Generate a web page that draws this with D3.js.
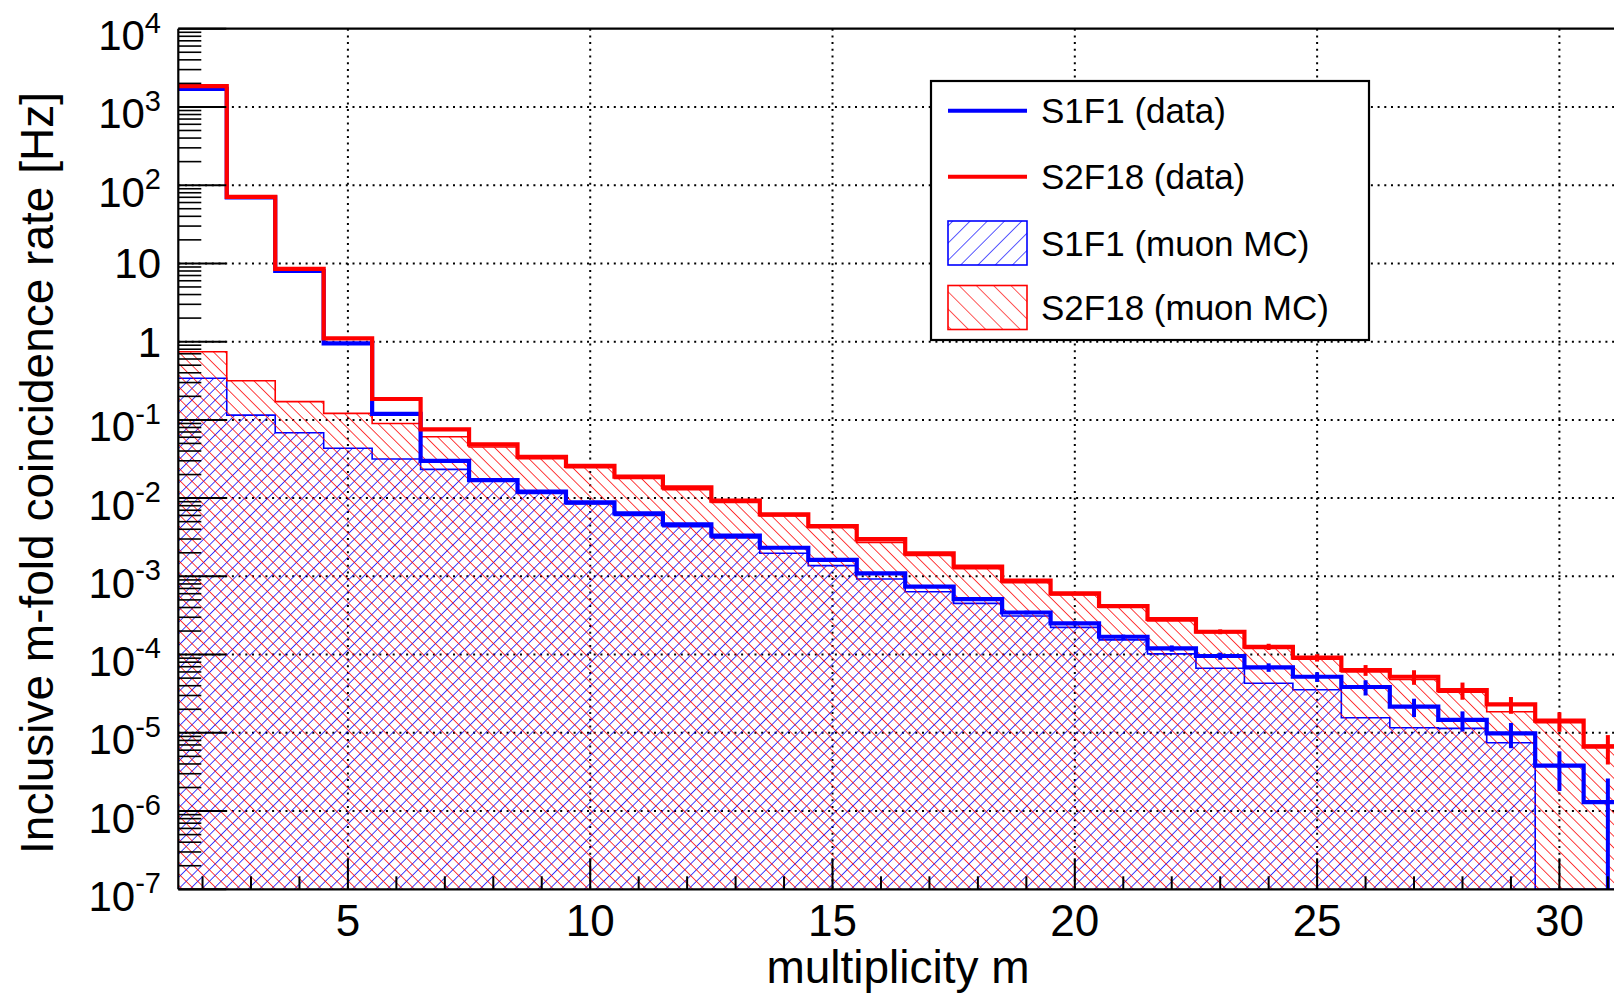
<!DOCTYPE html>
<html>
<head>
<meta charset="utf-8">
<script src="https://cdn.jsdelivr.net/npm/d3@7"></script>
<style>
  body { margin: 0; background: #fff; }
  svg { display: block; }
  text { font-family: "Liberation Sans", Arial, Helvetica, sans-serif; fill: #000; }
</style>
</head>
<body>
<div id="chart"></div>
<script>
// multiplicity bins (bin centres)
const multiplicity = [2, 3, 4, 5, 6, 7, 8, 9, 10, 11, 12, 13, 14, 15, 16, 17, 18, 19, 20, 21, 22, 23, 24, 25, 26, 27, 28, 29, 30, 31];

// S1F1 (data) rate [Hz] and errors
const s1f1Data = [1700, 70, 8.0, 0.95, 0.119, 0.030, 0.017, 0.0121, 0.00883, 0.0064, 0.00462, 0.00331, 0.00232, 0.00162, 0.00109,
  0.000738, 0.000513, 0.000345, 0.000251, 0.000169, 0.00012, 0.0000959, 0.0000687, 0.0000521, 0.0000385, 0.0000216, 0.0000146,
  0.00000986, 0.0000038, 0.0000013];
const s1f1Err = [0.042, 0.0086, 0.0029, 0.001, 0.00035, 0.00018, 0.00013, 0.00011, 0.000096, 0.000082, 0.00007, 0.000059, 0.000049,
  0.000041, 0.000034, 0.000028, 0.000023, 0.000019, 0.000016, 0.000011, 0.000011, 0.00001, 0.0000085, 0.0000074, 0.0000085,
  0.0000057, 0.0000042, 0.0000035, 0.000002, 0.0000013];

// S2F18 (data) rate [Hz] and errors
const s2f18Data = [1850, 71, 8.5, 1.1, 0.185, 0.0757, 0.0487, 0.0338, 0.0259, 0.0188, 0.0137, 0.00927, 0.00621, 0.0044, 0.0030,
  0.00197, 0.00133, 0.00088, 0.000607, 0.000418, 0.000285, 0.000196, 0.000126, 0.0000912, 0.0000635, 0.0000521, 0.0000352,
  0.0000231, 0.0000143, 0.00000665];
const s2f18Err = [0.044, 0.0086, 0.003, 0.0011, 0.00044, 0.00028, 0.00023, 0.00019, 0.000165, 0.00014, 0.00012, 0.000099, 0.000081,
  0.000068, 0.000056, 0.000046, 0.000037, 0.00003, 0.000025, 0.000021, 0.000017, 0.000014, 0.0000115, 0.0000098, 0.00001,
  0.000011, 0.0000087, 0.0000056, 0.000004, 0.0000027];

// muon MC
const s1f1MC = [0.34, 0.115, 0.0685, 0.0433, 0.0316, 0.0233, 0.0165, 0.0115, 0.0084, 0.006, 0.0043, 0.0031, 0.00197, 0.00137,
  0.000925, 0.000637, 0.000452, 0.000311, 0.000223, 0.000154, 0.000102, 0.0000668, 0.000043, 0.0000355, 0.0000156, 0.0000116,
  0.0000114, 0.00000748, 0, 0];
const s2f18MC = [0.743, 0.316, 0.171, 0.121, 0.090, 0.061, 0.045, 0.032, 0.0245, 0.0178, 0.0128, 0.0088, 0.0059, 0.0042, 0.00272,
  0.00185, 0.00125, 0.00083, 0.00058, 0.0004, 0.00027, 0.00019, 0.00012, 0.000087, 0.00006, 0.000048, 0.000033, 0.0000186,
  0.0000135, 0.000007];

const xTicksMajor = [5, 10, 15, 20, 25, 30];
const yDecades = [-7, -6, -5, -4, -3, -2, -1, 0, 1, 2, 3, 4];

const width = 1614, height = 1000;
const BLUE = "#0000ff", RED = "#ff0000";

const svg = d3.select("#chart").append("svg")
  .attr("width", width)
  .attr("height", height);

svg.append("rect").attr("width", width).attr("height", height).attr("fill", "#fff");

// scales (plot continues past the right edge of the picture)
const x = d3.scaleLinear().domain([1.5, 32.5]).range([178.3, 178.3 + 31 * 48.46]);
const y = d3.scaleLog().domain([1e-7, 1e4]).range([889.3, 28.7]);
const yMin = 1e-7;
const yv = v => y(Math.max(v, yMin));

const defs = svg.append("defs");
defs.append("clipPath").attr("id", "plot-clip")
  .append("rect")
  .attr("x", x(1.5)).attr("y", y(1e4))
  .attr("width", x(32.5) - x(1.5)).attr("height", y(yMin) - y(1e4));

// hatch patterns: "///" for blue, "\\\" for red
function hatch(id, color, spacing, angle, lw) {
  const p = defs.append("pattern")
    .attr("id", id)
    .attr("patternUnits", "userSpaceOnUse")
    .attr("width", spacing).attr("height", spacing)
    .attr("patternTransform", `rotate(${angle})`);
  p.append("line")
    .attr("x1", 0).attr("y1", -1).attr("x2", 0).attr("y2", spacing + 1)
    .attr("stroke", color).attr("stroke-width", lw);
}
hatch("hatch-blue", BLUE, 8.2, 45, 1.5);
hatch("hatch-red", RED, 8.2, -45, 1.5);
hatch("hatch-blue-leg", BLUE, 12.2, 45, 1.3);
hatch("hatch-red-leg", RED, 12.2, -45, 1.3);

// grid
const grid = svg.append("g").attr("stroke", "#000").attr("stroke-width", 2).attr("stroke-dasharray", "2 4.7");
grid.selectAll(".gx").data(xTicksMajor).enter().append("line")
  .attr("x1", d => x(d)).attr("x2", d => x(d))
  .attr("y1", y(1e4)).attr("y2", y(yMin));
grid.selectAll(".gy").data(yDecades.filter(e => e > -7 && e < 4)).enter().append("line")
  .attr("x1", x(1.5)).attr("x2", width)
  .attr("y1", e => y(Math.pow(10, e))).attr("y2", e => y(Math.pow(10, e)));

// step helpers
function stepPoints(vals) {
  const pts = multiplicity.map((m, i) => [m - 0.5, vals[i]]);
  pts.push([multiplicity[multiplicity.length - 1] + 0.5, vals[vals.length - 1]]);
  return pts;
}
const stepLine = d3.line().x(d => x(d[0])).y(d => yv(d[1])).curve(d3.curveStepAfter);
const stepArea = d3.area().x(d => x(d[0])).y0(y(yMin)).y1(d => yv(d[1])).curve(d3.curveStepAfter);

const plot = svg.append("g").attr("clip-path", "url(#plot-clip)");

// MC histograms: hatched fill + thin outline
[[s1f1MC, "hatch-blue", BLUE], [s2f18MC, "hatch-red", RED]].forEach(([vals, pat, col]) => {
  const pts = stepPoints(vals);
  plot.append("path").attr("d", stepArea(pts)).attr("fill", `url(#${pat})`);
  plot.append("path").attr("d", stepLine(pts)).attr("fill", "none")
    .attr("stroke", col).attr("stroke-width", 1.6);
});

// data histograms with error bars
[[s1f1Data, s1f1Err, BLUE], [s2f18Data, s2f18Err, RED]].forEach(([vals, errs, col]) => {
  plot.append("path").attr("d", stepLine(stepPoints(vals))).attr("fill", "none")
    .attr("stroke", col).attr("stroke-width", 4.2);
  plot.selectAll(null).data(multiplicity).enter().append("line")
    .attr("x1", m => x(m)).attr("x2", m => x(m))
    .attr("y1", (m, i) => yv(vals[i] + errs[i]))
    .attr("y2", (m, i) => yv(vals[i] - errs[i]))
    .attr("stroke", col).attr("stroke-width", 4);
});

// frame
const axes = svg.append("g").attr("stroke", "#000");
axes.append("line").attr("x1", x(1.5)).attr("x2", width).attr("y1", y(1e4)).attr("y2", y(1e4)).attr("stroke-width", 2.2);
axes.append("line").attr("x1", x(1.5)).attr("x2", width).attr("y1", y(yMin)).attr("y2", y(yMin)).attr("stroke-width", 2.2);
axes.append("line").attr("x1", x(1.5)).attr("x2", x(1.5)).attr("y1", y(1e4)).attr("y2", y(yMin)).attr("stroke-width", 2.2);

// x ticks (inward)
axes.selectAll(".xt").data(multiplicity).enter().append("line")
  .attr("x1", d => x(d)).attr("x2", d => x(d))
  .attr("y1", y(yMin)).attr("y2", d => y(yMin) - (d % 5 === 0 ? 31 : 13))
  .attr("stroke-width", 2);

// y ticks (inward)
const yMinor = [];
yDecades.forEach(e => { if (e < 4) [2, 3, 4, 5, 6, 7, 8, 9].forEach(k => yMinor.push(k * Math.pow(10, e))); });
axes.selectAll(".ytM").data(yDecades).enter().append("line")
  .attr("x1", x(1.5)).attr("x2", x(1.5) + 48)
  .attr("y1", e => y(Math.pow(10, e))).attr("y2", e => y(Math.pow(10, e)))
  .attr("stroke-width", 2);
axes.selectAll(".ytm").data(yMinor).enter().append("line")
  .attr("x1", x(1.5)).attr("x2", x(1.5) + 23)
  .attr("y1", d => y(d)).attr("y2", d => y(d))
  .attr("stroke-width", 1.6);

// x tick labels
svg.selectAll(".xl").data(xTicksMajor).enter().append("text")
  .attr("x", d => x(d)).attr("y", 936)
  .attr("text-anchor", "middle").attr("font-size", 44)
  .text(d => d);

// y tick labels: 10^n with superscript
yDecades.forEach(e => {
  const t = svg.append("text").attr("text-anchor", "end").attr("font-size", 42).attr("x", 161);
  const ty = y(Math.pow(10, e));
  if (e === 0 || e === 1) {
    t.attr("y", ty + 15).text(e === 0 ? "1" : "10");
  } else {
    t.attr("y", ty + 21.5);
    t.append("tspan").text("10");
    t.append("tspan").attr("font-size", 29).attr("dy", -17.6).text(e);
  }
});

// axis titles
svg.append("text")
  .attr("transform", "translate(53,473) rotate(-90)")
  .attr("text-anchor", "middle").attr("font-size", 46)
  .text("Inclusive m-fold coincidence rate [Hz]");
svg.append("text")
  .attr("x", 898).attr("y", 983)
  .attr("text-anchor", "middle").attr("font-size", 46)
  .text("multiplicity m");

// legend
const legendItems = [
  { label: "S1F1 (data)", color: BLUE, type: "line" },
  { label: "S2F18 (data)", color: RED, type: "line" },
  { label: "S1F1 (muon MC)", color: BLUE, type: "box", pattern: "hatch-blue-leg" },
  { label: "S2F18 (muon MC)", color: RED, type: "box", pattern: "hatch-red-leg" }
];
const rowY = [110.7, 176.7, 243, 307.5];
const legend = svg.append("g");
legend.append("rect")
  .attr("x", 931).attr("y", 81).attr("width", 438).attr("height", 259)
  .attr("fill", "#fff").attr("stroke", "#000").attr("stroke-width", 2.2);
legendItems.forEach((d, i) => {
  const cy = rowY[i];
  if (d.type === "line") {
    legend.append("line").attr("x1", 948).attr("x2", 1027).attr("y1", cy).attr("y2", cy)
      .attr("stroke", d.color).attr("stroke-width", 4);
  } else {
    legend.append("rect").attr("x", 948).attr("y", cy - 22).attr("width", 79).attr("height", 44)
      .attr("fill", `url(#${d.pattern})`).attr("stroke", d.color).attr("stroke-width", 1.6);
  }
  legend.append("text").attr("x", 1041).attr("y", cy + 12.5)
    .attr("font-size", 35).text(d.label);
});
</script>
</body>
</html>
